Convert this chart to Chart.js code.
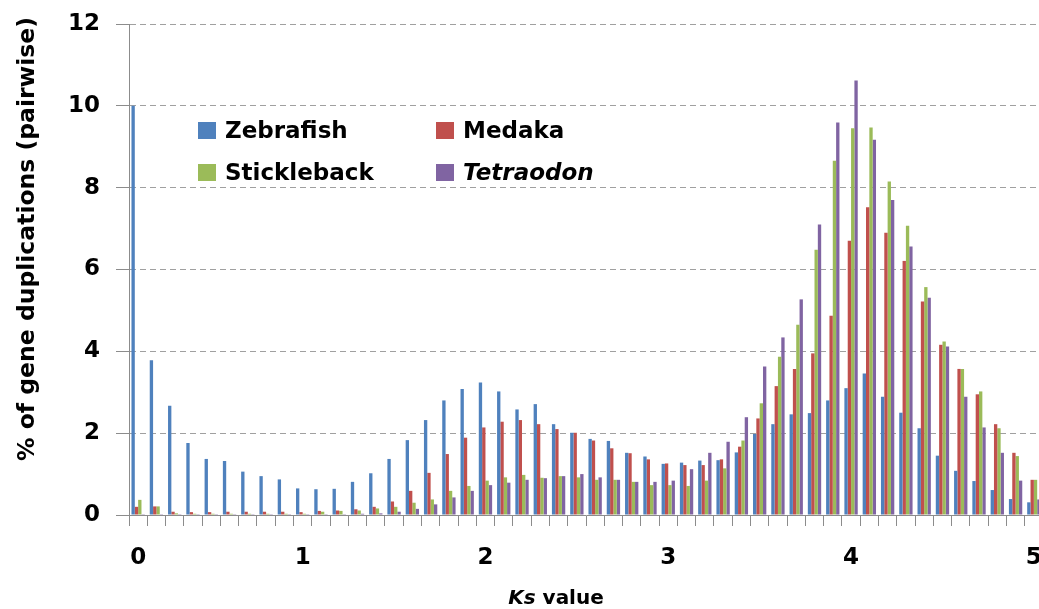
<!DOCTYPE html>
<html>
<head>
<meta charset="utf-8">
<script src="https://cdn.jsdelivr.net/npm/chart.js@4.4.1/dist/chart.umd.min.js"></script>
<style>
  html, body { margin: 0; padding: 0; background: #fff; overflow: hidden; }
  #wrap { position: relative; width: 1044px; height: 609px; }
  #legend { position: absolute; left: 198px; top: 117px; font-family: "DejaVu Sans", sans-serif; font-weight: bold; font-size: 23px; color: #000; }
  .lg-item { position: absolute; white-space: nowrap; display: flex; align-items: center; }
  .lg-box { width: 18px; height: 17px; margin-right: 9px; }
  #ytitle { position: absolute; left: 26px; top: 239px; transform: translate(-50%, -50%) rotate(-90deg); white-space: nowrap; font-family: "DejaVu Sans", sans-serif; font-weight: bold; font-size: 23.5px; }
  #xtitle { position: absolute; left: 556px; top: 597px; transform: translate(-50%, -50%); white-space: nowrap; font-family: "DejaVu Sans", sans-serif; font-weight: bold; font-size: 20px; }
</style>
</head>
<body>
<div id="wrap">
  <canvas id="ksChart" width="1044" height="609"></canvas>
  <div id="legend"></div>
  <div id="ytitle">% of gene duplications (pairwise)</div>
  <div id="xtitle"><i>Ks</i> value</div>
</div>
<script>
// Ks bins (0.1 wide), tick labels shown only at a few of them
const ksBins = ['0.1', '0.2', '0.3', '0.4', '0.5', '0.6', '0.7', '0.8', '0.9', '1.0',
                '1.1', '1.2', '1.3', '1.4', '1.5', '1.6', '1.7', '1.8', '1.9', '2.0',
                '2.1', '2.2', '2.3', '2.4', '2.5', '2.6', '2.7', '2.8', '2.9', '3.0',
                '3.1', '3.2', '3.3', '3.4', '3.5', '3.6', '3.7', '3.8', '3.9', '4.0',
                '4.1', '4.2', '4.3', '4.4', '4.5', '4.6', '4.7', '4.8', '4.9', '5.0'];
const xTickText = { 0: '0', 9: '1', 19: '2', 29: '3', 39: '4', 49: '5' };
const yTicks = [0, 2, 4, 6, 8, 10, 12];

const zebrafish = [10.0, 3.78, 2.67, 1.76, 1.37, 1.32, 1.06, 0.95, 0.87, 0.65,
                   0.63, 0.64, 0.81, 1.02, 1.37, 1.83, 2.32, 2.80, 3.08, 3.24,
                   3.02, 2.58, 2.71, 2.22, 2.01, 1.86, 1.81, 1.52, 1.43, 1.25,
                   1.28, 1.33, 1.34, 1.53, 1.98, 2.22, 2.46, 2.49, 2.80, 3.10,
                   3.46, 2.89, 2.50, 2.12, 1.45, 1.08, 0.83, 0.61, 0.39, 0.31];
const medaka = [0.20, 0.21, 0.08, 0.07, 0.07, 0.08, 0.08, 0.08, 0.08, 0.07,
                0.10, 0.11, 0.14, 0.20, 0.33, 0.59, 1.03, 1.49, 1.89, 2.14,
                2.28, 2.32, 2.22, 2.10, 2.01, 1.82, 1.63, 1.51, 1.36, 1.26,
                1.22, 1.22, 1.36, 1.67, 2.36, 3.15, 3.57, 3.95, 4.87, 6.70,
                7.52, 6.90, 6.21, 5.22, 4.16, 3.57, 2.95, 2.22, 1.52, 0.86];
const stickleback = [0.37, 0.21, 0.04, 0.03, 0.03, 0.03, 0.03, 0.03, 0.03, 0.03,
                     0.08, 0.10, 0.11, 0.16, 0.20, 0.30, 0.38, 0.59, 0.71, 0.84,
                     0.92, 0.98, 0.91, 0.95, 0.92, 0.86, 0.86, 0.81, 0.73, 0.73,
                     0.71, 0.84, 1.14, 1.82, 2.73, 3.87, 4.65, 6.48, 8.66, 9.45,
                     9.47, 8.15, 7.07, 5.57, 4.24, 3.57, 3.02, 2.12, 1.44, 0.86];
const tetraodon = [0.02, 0.02, 0.02, 0.02, 0.02, 0.02, 0.02, 0.02, 0.02, 0.02,
                   0.02, 0.02, 0.03, 0.04, 0.08, 0.15, 0.26, 0.43, 0.59, 0.73,
                   0.79, 0.86, 0.90, 0.95, 1.00, 0.92, 0.86, 0.81, 0.81, 0.84,
                   1.12, 1.52, 1.79, 2.39, 3.63, 4.34, 5.27, 7.10, 9.59, 10.62,
                   9.17, 7.70, 6.56, 5.31, 4.12, 2.89, 2.14, 1.52, 0.84, 0.38];

const seriesNames = ['Zebrafish', 'Medaka', 'Stickleback', 'Tetraodon'];
const seriesColors = ['#4f81bd', '#c0504d', '#9bbb59', '#8064a2'];
const seriesData = [zebrafish, medaka, stickleback, tetraodon];

(function() {
    const tickFont = { family: 'DejaVu Sans', size: 23, weight: 'bold' };
    const axisGrey = '#8c8c8c';

    // HTML legend (Tetraodon is italic in the original)
    const legendPos = [[0, 0], [238, 0], [0, 42], [238, 42]];
    const legend = document.getElementById('legend');
    seriesNames.forEach((name, i) => {
        const item = document.createElement('div');
        item.className = 'lg-item';
        item.style.left = legendPos[i][0] + 'px';
        item.style.top = legendPos[i][1] + 'px';
        const label = name === 'Tetraodon' ? '<i>' + name + '</i>' : name;
        item.innerHTML = `<span class="lg-box" style="background:${seriesColors[i]}"></span><span>${label}</span>`;
        legend.appendChild(item);
    });

    const ctx = document.getElementById('ksChart').getContext('2d');
    new Chart(ctx, {
        type: 'bar',
        data: {
            labels: ksBins,
            datasets: seriesNames.map((name, i) => ({
                label: name,
                data: seriesData[i],
                backgroundColor: seriesColors[i],
                borderWidth: 0,
                barPercentage: 1.0,
                categoryPercentage: 0.73
            }))
        },
        options: {
            responsive: false,
            animation: false,
            layout: { padding: { left: 70, right: 1, top: 24, bottom: 37 } },
            plugins: {
                legend: { display: false },
                tooltip: { enabled: false }
            },
            scales: {
                x: {
                    // fixed height, no extra side padding so the plot runs to the edge
                    afterFit: function(scale) {
                        scale.height = 57;
                        scale.paddingLeft = 0;
                        scale.paddingRight = 0;
                    },
                    grid: {
                        drawOnChartArea: false,
                        drawTicks: true,
                        tickLength: 11,
                        color: axisGrey
                    },
                    border: { color: axisGrey, width: 1 },
                    ticks: {
                        autoSkip: false,
                        maxRotation: 0,
                        padding: 18,
                        color: '#000',
                        font: tickFont,
                        callback: function(value, index) {
                            return xTickText[index] !== undefined ? xTickText[index] : '';
                        }
                    }
                },
                y: {
                    min: 0,
                    max: 12,
                    afterFit: function(scale) {
                        scale.width = 59;
                        scale.paddingTop = 12;
                        scale.paddingBottom = 12;
                    },
                    afterBuildTicks: function(scale) {
                        scale.ticks = yTicks.map(v => ({ value: v }));
                    },
                    grid: {
                        color: '#a0a0a0',
                        lineWidth: 1,
                        tickLength: 13,
                        tickColor: axisGrey
                    },
                    border: { color: axisGrey, width: 1, dash: [6, 4] },
                    ticks: {
                        padding: 16,
                        color: '#000',
                        font: tickFont
                    }
                }
            }
        }
    });
})();
</script>
</body>
</html>
